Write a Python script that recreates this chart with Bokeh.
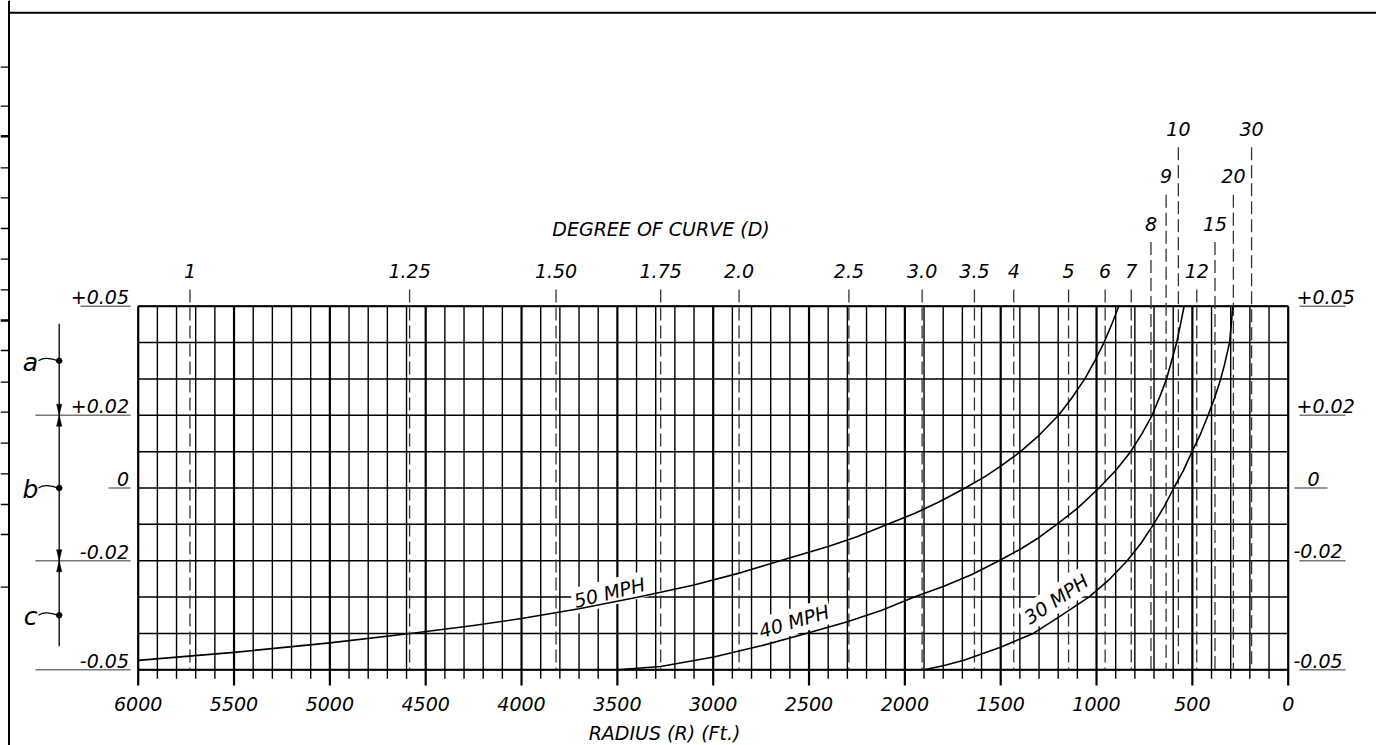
from bokeh.plotting import figure
from bokeh.models import Range1d
from bokeh.core.properties import value
from bokeh.embed import file_html
from bokeh.resources import INLINE

# ---------------- data ----------------
radius_ticks = [6000, 5500, 5000, 4500, 4000, 3500, 3000, 2500, 2000, 1500, 1000, 500, 0]
radius_tick_labels = ["6000", "5500", "5000", "4500", "4000", "3500", "3000",
                      "2500", "2000", "1500", "1000", "500", "0"]
e_ticks = [0.05, 0.02, 0.0, -0.02, -0.05]
e_tick_labels = ["+0.05", "+0.02", "0", "-0.02", "-0.05"]

degree_labels = ["1", "1.25", "1.50", "1.75", "2.0", "2.5", "3.0", "3.5", "4", "5", "6", "7",
                 "8", "9", "10", "12", "15", "20", "30"]
degree_radius = [5730, 4584, 3820, 3274, 2865, 2292, 1910, 1637, 1432, 1146, 955, 819,
                 716, 637, 573, 477, 382, 286, 191]
degree_tier = [0, 0, 0, 0, 0, 0, 0, 0, 0, 0, 0, 0, 1, 2, 3, 0, 1, 2, 3]

# superelevation curves (radius ft, e)
r50 = [6000, 5500, 5000, 4580, 4250, 4000, 3700, 3389, 3100, 2850, 2651, 2400, 2250, 2090,
       1950, 1820, 1685, 1580, 1500, 1397, 1300, 1198, 1130, 1061, 1010, 961, 920, 884]
e50 = [-0.0474, -0.0452, -0.0426, -0.0400, -0.0378, -0.0359, -0.0332, -0.0300, -0.0267, -0.0232,
       -0.0200, -0.0161, -0.0134, -0.0100, -0.0070, -0.0038, 0.0000, 0.0032, 0.0060, 0.0100,
       0.0145, 0.0200, 0.0247, 0.0300, 0.0349, 0.0400, 0.0451, 0.0500]
r40 = [3500, 3275, 2997, 2750, 2515, 2300, 2120, 1951, 1800, 1650, 1509, 1400, 1300, 1207,
       1100, 987, 900, 822, 760, 710, 670, 635, 608, 582, 562, 543]
e40 = [-0.0500, -0.0491, -0.0465, -0.0434, -0.0400, -0.0368, -0.0336, -0.0300, -0.0271, -0.0238,
       -0.0200, -0.0169, -0.0136, -0.0100, -0.0056, 0.0000, 0.0048, 0.0100, 0.0152, 0.0200,
       0.0251, 0.0300, 0.0350, 0.0400, 0.0450, 0.0500]
r30 = [1900, 1800, 1692, 1501, 1330, 1197, 1040, 940, 840, 765, 703, 647, 597, 547, 502, 457,
       418, 385, 352, 332, 306, 297, 289]
e30 = [-0.0500, -0.0489, -0.0474, -0.0438, -0.0400, -0.0355, -0.0300, -0.0255, -0.0200, -0.0150,
       -0.0100, -0.0051, 0.0000, 0.0048, 0.0100, 0.0149, 0.0200, 0.0246, 0.0300, 0.0340, 0.0400,
       0.0451, 0.0500]

curve_labels = ["50 MPH", "40 MPH", "30 MPH"]
zone_labels = ["a", "b", "c"]
zone_e = [0.035, 0.0, -0.035]
zone_bounds = [0.02, -0.02]

# ---------------- layout (picture pixel geometry) ----------------
W, H = 1376, 745
PX_R6000, PX_R0 = 137.7, 1287.7       # picture x of R=6000 and R=0
PY_TOP, PY_BOT = 305.7, 669.3         # picture y of e=+0.05 and e=-0.05
PPF = (PX_R0 - PX_R6000) / 6000.0     # px per ft
PPE = (PY_BOT - PY_TOP) / 0.10        # px per unit e


def xr(px):
    return (PX_R0 - px) / PPF


def ye(py):
    return 0.05 - (py - PY_TOP) / PPE


FONT = value("DejaVu Sans")
FS = "19px"

p = figure(width=W, height=H,
           x_range=Range1d(xr(0), xr(W)), y_range=Range1d(ye(H), ye(0)),
           x_axis_type=None, y_axis_type=None, toolbar_location=None,
           output_backend="svg", min_border=0, outline_line_color=None)
p.background_fill_color = "white"
p.border_fill_color = "white"

# sheet border (top + left) with the edge ruler ticks
p.segment(x0=[xr(8)], y0=[ye(12.3)], x1=[xr(W)], y1=[ye(12.3)], line_color="black", line_width=2)
p.segment(x0=[xr(8.5)], y0=[ye(0)], x1=[xr(8.5)], y1=[ye(H)], line_color="black", line_width=2)
ruler_py = [66.7, 105.7, 167.3, 197.3, 228, 258.7, 289.3, 350, 381.7, 411.7, 442.7, 473.3,
            504, 534, 586.7]
ruler_thick_py = [135.7, 320]
p.segment(x0=[xr(0)] * len(ruler_py), y0=[ye(v) for v in ruler_py],
          x1=[xr(8)] * len(ruler_py), y1=[ye(v) for v in ruler_py], line_color="black", line_width=1.3)
p.segment(x0=[xr(0)] * 2, y0=[ye(v) for v in ruler_thick_py],
          x1=[xr(8)] * 2, y1=[ye(v) for v in ruler_thick_py], line_color="black", line_width=2.6)

# grid: vertical every 100 ft, horizontal every 0.01
minor_x = [r for r in range(0, 6001, 100) if r % 500 != 0]
major_x = [r for r in range(0, 6001, 500)]
p.segment(x0=minor_x, y0=[ye(678.3)] * len(minor_x), x1=minor_x, y1=[0.05] * len(minor_x),
          line_color="black", line_width=1.4)
p.segment(x0=major_x, y0=[ye(685)] * len(major_x), x1=major_x, y1=[0.05] * len(major_x),
          line_color="black", line_width=2.2)
e_grid = [round(-0.05 + 0.01 * i, 2) for i in range(11)]
p.segment(x0=[6000] * len(e_grid), y0=e_grid, x1=[0] * len(e_grid), y1=e_grid,
          line_color="black", line_width=1.5)
p.segment(x0=[6000, 6000], y0=[0.05, -0.05], x1=[0, 0], y1=[0.05, -0.05],
          line_color="black", line_width=2)

# degree-of-curve dashed lines and labels
TIER = 47.4
tops = [ye(289 - TIER * t) for t in degree_tier]
p.segment(x0=degree_radius, y0=tops, x1=degree_radius, y1=[-0.05] * len(degree_radius),
          line_color="#333333", line_width=1.3, line_dash="13 5")
p.text(x=degree_radius, y=[ye(270.5 - TIER * t) for t in degree_tier], text=degree_labels,
       text_align="center", text_baseline="middle", text_font=FONT, text_font_style="italic",
       text_font_size=FS, text_color="black")
p.text(x=[xr(660.5)], y=[ye(228)], text=["DEGREE OF CURVE (D)"], text_align="center",
       text_baseline="middle", text_font=FONT, text_font_style="italic", text_font_size=FS)

# x tick labels + axis title
p.text(x=radius_ticks, y=[ye(703)] * len(radius_ticks), text=radius_tick_labels,
       text_align="center", text_baseline="middle", text_font=FONT, text_font_style="italic",
       text_font_size=FS)
p.text(x=[xr(664)], y=[ye(732)], text=["RADIUS (R) (Ft.)"], text_align="center",
       text_baseline="middle", text_font=FONT, text_font_style="italic", text_font_size=FS)

# e labels left and right, with gray underlines
left_ul_start = [80, 35, 108, 35, 35]
p.segment(x0=[xr(s) for s in left_ul_start], y0=e_ticks, x1=[xr(130)] * 5, y1=e_ticks,
          line_color="#777777", line_width=1.5)
p.text(x=[xr(128.5)] * 5, y=[e + 9 / PPE for e in e_ticks], text=e_tick_labels,
       text_align="right", text_baseline="middle", text_font=FONT, text_font_style="italic",
       text_font_size=FS)
right_ul = [(1299, 1345), (1299, 1345), (1294, 1327), (1299, 1345), (1299, 1345)]
p.segment(x0=[xr(a) for a, b in right_ul], y0=e_ticks, x1=[xr(b) for a, b in right_ul], y1=e_ticks,
          line_color="#777777", line_width=1.5)
right_x = [1296, 1296, 1307, 1293, 1293]
p.text(x=[xr(v) for v in right_x], y=[e + 9.3 / PPE for e in e_ticks], text=e_tick_labels,
       text_align="left", text_baseline="middle", text_font=FONT, text_font_style="italic",
       text_font_size=FS)

# zone annotation a / b / c
AX = 58.7
p.segment(x0=[xr(AX)], y0=[ye(323.3)], x1=[xr(AX)], y1=[ye(645.7)], line_color="black", line_width=1.3)
p.scatter(x=[xr(AX)] * 3, y=zone_e, size=5.5, color="black")
p.text(x=[xr(30)] * 3, y=[e - 1.5 / PPE for e in zone_e], text=zone_labels, text_align="center",
       text_baseline="middle", text_font=FONT, text_font_style="italic", text_font_size="25px")
p.bezier(x0=[xr(38)] * 3, y0=zone_e, x1=[xr(AX - 1)] * 3, y1=zone_e,
         cx0=[xr(44)] * 3, cy0=[e + 4 / PPE for e in zone_e],
         cx1=[xr(50)] * 3, cy1=[e + 2 / PPE for e in zone_e],
         line_color="black", line_width=1.2)
arrows_x, arrows_y = [], []
for b in zone_bounds:
    for sgn in (1, -1):
        arrows_x.append([xr(AX), xr(AX - 2.6), xr(AX + 2.6)])
        arrows_y.append([b, b + sgn * 11 / PPE, b + sgn * 11 / PPE])
p.patches(xs=arrows_x, ys=arrows_y, fill_color="black", line_color="black", line_width=0.5)

# curve labels (white boxes mask the grid)
p.text(x=[xr(609), xr(793.5), xr(1055.7)], y=[ye(592), ye(620.7), ye(598.5)], text=curve_labels,
       angle=[14, 16.5, 34], angle_units="deg", text_align="center", text_baseline="middle",
       text_font=FONT, text_font_style="italic", text_font_size=FS,
       background_fill_color="white", padding=2)

# design curves
for rr, ee in ((r50, e50), (r40, e40), (r30, e30)):
    p.line(x=rr, y=ee, line_color="black", line_width=1.6, line_join="round")

open("out.html", "w").write(file_html(p, INLINE))
